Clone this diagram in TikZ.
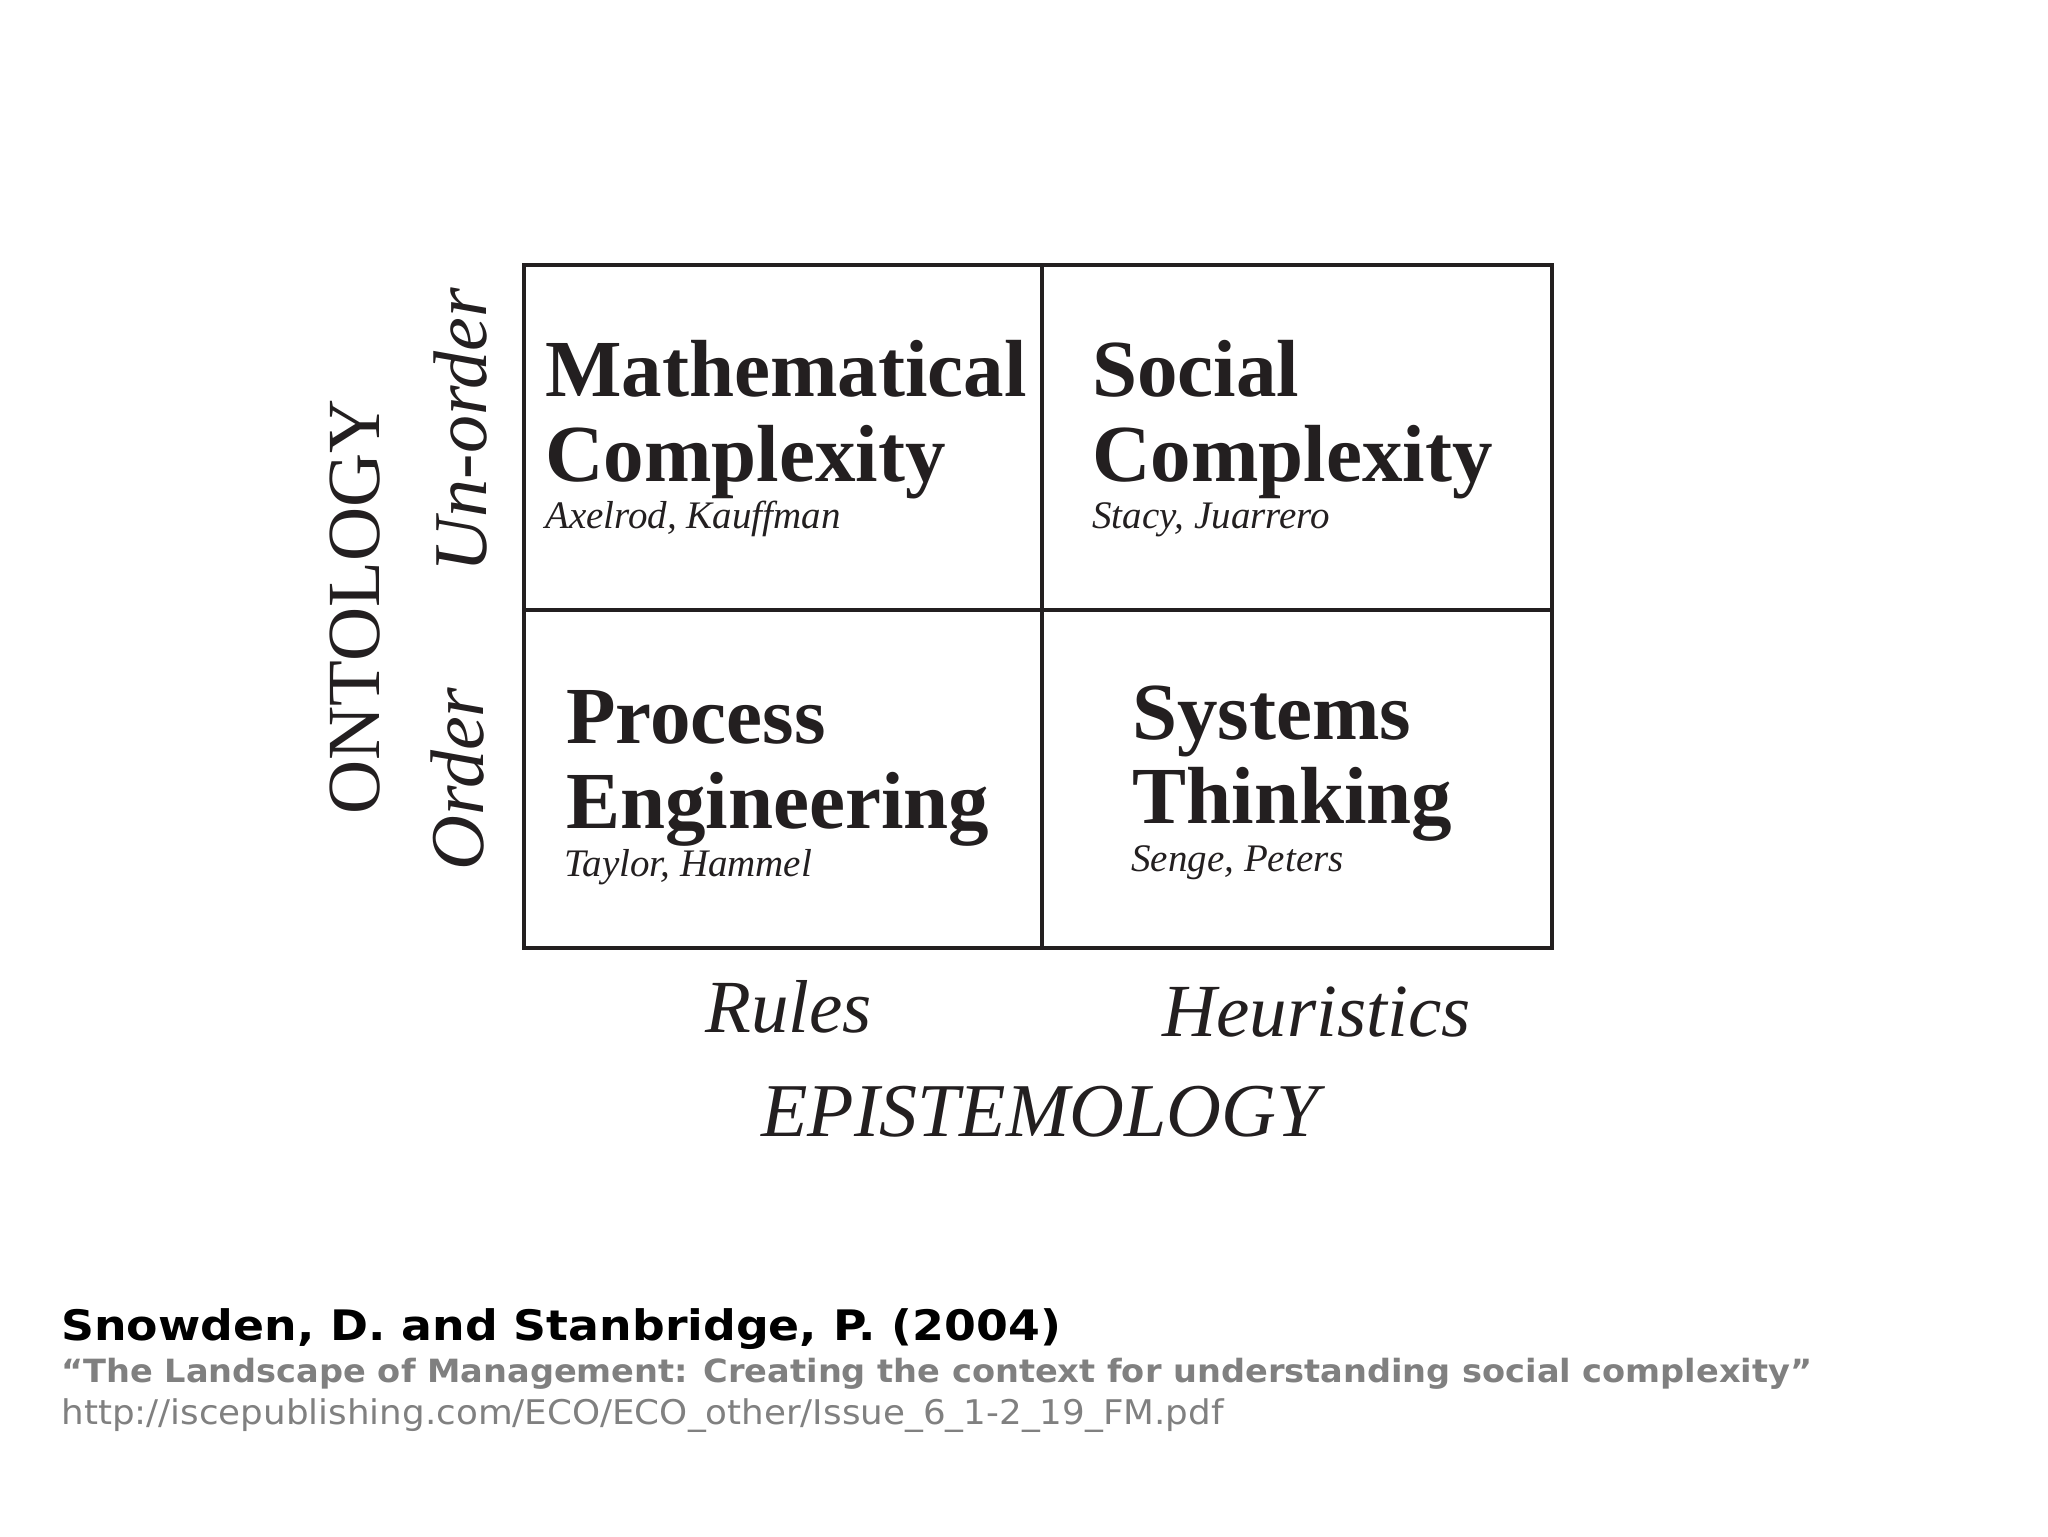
\documentclass[tikz,border=0pt]{standalone}
\usepackage{fontspec}
\setmainfont{Liberation Serif}
\newfontfamily\footwide[FakeStretch=1.09]{DejaVu Sans}
\newfontfamily\footmid[FakeStretch=1.05]{DejaVu Sans}
\definecolor{ink}{RGB}{35,31,32}
\definecolor{footgray}{RGB}{128,128,128}
\begin{document}
\begin{tikzpicture}[x=0.5pt,y=-0.5pt,
  gridline/.style={draw=ink,line width=1.6pt},
  title/.style={anchor=base west,inner sep=0pt,text=ink,font=\fontsize{40.5}{40}\selectfont\bfseries},
  author/.style={anchor=base west,inner sep=0pt,text=ink,font=\fontsize{19.5}{20}\selectfont\itshape},
  axis/.style={anchor=base west,inner sep=0pt,text=ink,font=\fontsize{37.5}{38}\selectfont\itshape},
  vaxis/.style={anchor=base,rotate=90,inner sep=0pt,text=ink,font=\fontsize{38}{38}\selectfont\itshape},
  foot/.style={anchor=base west,inner sep=0pt}]
\useasboundingbox[fill=white] (0,0) rectangle (2048,1536);
% grid
\coordinate (tl) at (524,265);
\coordinate (br) at (1552,948);
\coordinate (mt) at (1042,265);
\coordinate (mb) at (1042,948);
\coordinate (ml) at (524,610);
\coordinate (mr) at (1552,610);
\draw[gridline] (tl) rectangle (br);
\draw[gridline] (mt) -- (mb);
\draw[gridline] (ml) -- (mr);
% quadrant texts
\node[title] (mc1) at (545,396) {Mathematical};
\node[title] (mc2) at (545,481) {Complexity};
\node[author] (mca) at (545,528) {Axelrod, Kauffman};
\node[title] (sc1) at (1092,396) {Social};
\node[title] (sc2) at (1092,481) {Complexity};
\node[author] (sca) at (1092,528) {Stacy, Juarrero};
\node[title] (pe1) at (566,743) {Process};
\node[title] (pe2) at (566,828) {Engineering};
\node[author] (pea) at (564,876) {Taylor, Hammel};
\node[title] (st1) at (1132,739) {Systems};
\node[title] (st2) at (1132,823) {Thinking};
\node[author] (sta) at (1131,871) {Senge, Peters};
% axes
\node[axis] (rules) at (705,1032) {Rules};
\node[axis] (heur) at (1162,1036) {Heuristics};
\node[axis,font=\fontsize{38}{38}\selectfont\itshape] (epi) at (761,1136) {EPISTEMOLOGY};
\node[vaxis,font=\fontsize{37.5}{38}\selectfont] (onto) at (379,607) {ONTOLOGY};
\node[vaxis] (unord) at (486,430) {Un-order};
\node[vaxis] (ord) at (483,779) {Order};
% footer
\node[foot,font=\footwide\bfseries\fontsize{21}{22}\selectfont,text=black] (ref1) at (61,1340) {Snowden, D. and Stanbridge, P. (2004)};
\node[foot,font=\footmid\bfseries\fontsize{16}{18}\selectfont,text=footgray] (ref2) at (61,1382) {“The Landscape of Management: Creating the context for understanding social complexity”};
\node[foot,font=\footmid\fontsize{17}{18}\selectfont,text=footgray] (ref3) at (61,1424) {http://iscepublishing.com/ECO/ECO\_other/Issue\_6\_1-2\_19\_FM.pdf};
\end{tikzpicture}
\end{document}
